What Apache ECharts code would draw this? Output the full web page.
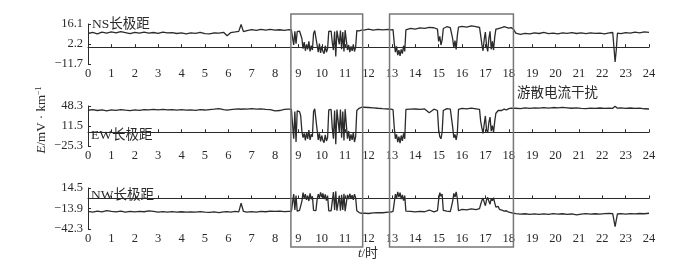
<!DOCTYPE html>
<html>
<head>
<meta charset="utf-8">
<script src="https://cdn.jsdelivr.net/npm/echarts@6/dist/echarts.min.js"></script>
<style>
  html, body { margin: 0; padding: 0; background: #fff; }
  #main { width: 695px; height: 265px; }
</style>
</head>
<body>
<div id="main"></div>
<script>
// 时间 (h)
var hours = [
  0, 0.2, 0.4, 0.6, 0.8, 1, 1.2, 1.4, 1.6, 1.8, 2, 2.2, 2.4, 2.6, 2.8, 3, 3.2, 3.4, 3.6, 3.8,
  4, 4.2, 4.4, 4.6, 4.8, 5, 5.2, 5.4, 5.6, 5.8, 5.95, 6.1, 6.3, 6.45, 6.55, 6.65, 6.8, 7, 7.2, 7.4,
  7.6, 7.8, 8, 8.2, 8.4, 8.6,
  8.70, 8.75, 8.80, 8.85, 8.90, 8.95, 9.00, 9.05, 9.10, 9.15, 9.20, 9.25, 9.30, 9.35, 9.40, 9.45,
  9.50, 9.55, 9.60, 9.65, 9.70, 9.75, 9.80, 9.85, 9.90, 9.95, 10.00, 10.05, 10.10, 10.15, 10.20,
  10.25, 10.30, 10.35, 10.40, 10.45, 10.50, 10.55, 10.60, 10.65, 10.70, 10.75, 10.80, 10.85, 10.90,
  10.95, 11.00, 11.05, 11.10, 11.15, 11.20, 11.25, 11.30, 11.35, 11.40, 11.45, 11.50, 11.55, 11.60,
  11.65, 11.70,
  11.8, 12.0, 12.2, 12.4, 12.6, 12.85,
  12.95, 13.0, 13.05, 13.1, 13.15, 13.2, 13.25, 13.3, 13.35, 13.4, 13.45, 13.5, 13.55, 13.6, 13.65,
  13.8, 14.0, 14.2, 14.4, 14.6, 14.8,
  14.95, 15.0, 15.05, 15.1, 15.15, 15.2, 15.25,
  15.35, 15.5,
  15.6, 15.65, 15.7, 15.75, 15.8, 15.85,
  16.0, 16.2, 16.4, 16.6,
  16.75, 16.8, 16.85, 16.9, 16.95, 17.0, 17.05, 17.1, 17.15, 17.2, 17.25, 17.3, 17.35, 17.4, 17.45,
  17.5, 17.55, 17.6,
  17.7, 17.8, 17.9, 18.0, 18.1, 18.2,
  18.3, 18.5, 18.7, 18.9, 19.1, 19.3, 19.5, 19.7, 19.9, 20.1, 20.3, 20.5, 20.7, 20.9, 21.1, 21.3,
  21.5, 21.7, 21.9, 22.1, 22.3, 22.45, 22.5, 22.55, 22.6, 22.65, 22.8, 23.0, 23.2, 23.4, 23.6, 23.8, 24.0
];

// NS长极距
var nsValues = [
  9.5, 10.2, 9.2, 10.5, 9.8, 10.6, 9.9, 10.8, 10.1, 9.4, 10.3, 9.7, 10.4, 9.8, 10.2, 9.6, 10.5, 9.9, 10.1, 9.5,
  10.0, 9.3, 9.9, 9.6, 10.3, 9.4, 9.2, 10.0, 9.7, 10.3, 8.0, 10.1, 10.6, 11.0, 15.8, 10.8, 11.5, 12.2, 11.6, 12.4,
  11.9, 12.3, 11.8, 12.1, 11.7, 12.2,
  12.0, 11.5, 1.5, 11.0, 2.5, 10.8, 11.5, 11.2, 10.5, 6.0, -1.0, 3.5, -2.5, 2.0, -1.5, 4.0,
  -3.0, 1.0, -2.0, 9.5, 11.5, 10.8, 1.5, -3.5, 2.5, -4.0, 0.5, -3.0, -4.5, 1.0, -3.5,
  -1.0, 11.0, 12.0, 11.2, 3.5, -2.0, 10.8, -6.5, 11.5, 12.0, 2.0, 11.6, -1.5, 10.5,
  -3.0, 11.8, 11.0, -2.0, 1.5, -3.5, 0.5, -2.5, 2.0, -3.0, 0.0, 11.5, 12.0, 11.3,
  12.2, 11.8,
  11.9, 12.5, 11.8, 12.4, 12.0, 12.3,
  12.0, 11.6, 12.2, 3.0, -3.5, 0.5, -5.5, -2.0, -6.0, -1.5, -4.5, 1.0, -3.0, 12.0, 12.8,
  13.0, 12.6, 13.4, 13.0, 13.8, 13.5,
  12.5, 4.0, 7.5, 1.5, 5.0, 13.0, 13.8,
  14.2, 13.5,
  6.0, -0.5, 4.5, -1.5, 8.0, 14.0,
  14.5, 14.0, 14.8, 14.2,
  13.8, 8.0, 2.0, -2.5, 5.5, 10.5, 1.0, -3.0, 6.0, 11.0, -1.5, 4.0, -2.0, 7.0, 12.5,
  13.5, 12.8, 13.8,
  13.5, 14.3, 13.8, 13.2, 13.6, 12.5,
  9.8, 8.9, 9.6, 9.2, 9.9, 9.5, 10.2, 9.4, 9.8, 9.3, 10.0, 9.6, 10.1, 9.5, 9.9, 9.4,
  10.0, 9.6, 9.8, 9.3, 9.9, 10.2, 9.5, -10.3, -2.0, 9.8, 9.4, 10.1, 9.7, 10.4, 10.0, 10.6, 10.3
];

// EW长极距
var ewValues = [
  40.5, 41.5, 40.0, 41.2, 39.5, 41.0, 40.2, 41.5, 40.6, 39.8, 41.0, 40.3, 41.8, 41.0, 42.0, 41.3, 42.2, 41.0, 41.8, 40.7,
  41.5, 40.8, 41.2, 40.4, 41.6, 40.9, 41.8, 42.5, 43.5, 41.5, 40.6, 41.5, 42.5, 43.0, 42.3, 43.2, 42.5, 43.5, 42.6, 43.0,
  42.0, 41.5, 39.5, 40.0, 42.0, 42.5,
  42.5, 41.0, -12.0, 38.0, -18.0, 39.5, 40.5, 38.0, 30.0, 2.0, -10.0, -2.0, -15.0, 0.0, -12.0, 4.0,
  -14.0, -4.0, -8.0, 38.0, 43.0, 41.0, 5.0, -14.0, -2.0, -17.0, -6.0, -15.0, -19.0, -5.0, -16.0,
  -10.0, 41.0, 43.0, 42.0, 8.0, -12.0, 40.0, -22.0, 42.0, 43.0, 0.0, 42.0, -10.0, 38.0,
  -15.0, 42.5, 40.0, -12.0, 2.0, -16.0, -4.0, -14.0, 0.0, -18.0, -8.0, 40.0, 42.0, 44.0,
  45.5, 46.0,
  46.0, 45.5, 45.0, 44.2, 43.5, 42.8,
  42.5, 42.0, 41.5, 10.0, -12.0, -4.0, -18.0, -8.0, -20.0, -6.0, -16.0, -2.0, -12.0, 42.0, 43.0,
  42.5, 42.8, 42.0, 43.0, 36.0, 42.5,
  40.0, 5.0, -8.0, -12.0, 0.0, 40.0, 43.0,
  43.5, 42.5,
  10.0, -10.0, -4.0, -14.0, -2.0, 42.0,
  44.0, 43.0, 44.5, 43.2,
  42.0, 20.0, 8.0, -2.0, 15.0, 30.0, 4.0, -1.0, 18.0, 28.0, 2.0, 12.0, 0.0, 20.0, 35.0,
  38.0, 40.0, 37.0,
  40.0, 42.5, 41.0, 43.5, 44.5, 44.0,
  44.2, 43.5, 44.8, 44.0, 45.0, 44.3, 45.2, 44.5, 45.5, 44.8, 45.6, 45.0, 44.2, 44.9, 44.0, 43.5,
  44.3, 43.8, 44.6, 43.9, 44.5, 44.0, 45.5, 48.0, 45.0, 44.3, 44.8, 44.0, 44.6, 43.8, 44.4, 43.2, 42.8
];

// NW长极距
var nwValues = [
  -18.0, -18.8, -17.5, -18.5, -16.8, -17.8, -18.6, -17.6, -18.9, -18.0, -18.7, -17.9, -18.4, -17.2, -18.0, -18.8, -18.2, -19.0, -18.3, -18.9,
  -18.4, -19.0, -18.5, -18.9, -18.2, -18.8, -19.3, -18.7, -19.5, -18.6, -18.2, -18.9, -17.8, -18.6, -6.5, -18.0, -18.8, -18.2, -19.0, -17.8,
  -18.4, -17.5, -18.0, -17.4, -18.2, -17.8,
  -18.0, -17.0, 6.0, -16.0, 4.0, -17.5, -17.0, -16.5, -15.0, -4.0, 8.0, 0.0, 6.0, -2.0, 4.0, -3.5,
  7.0, -1.0, 3.0, -16.5, -18.0, -16.8, -2.0, 6.0, 0.5, 8.5, 2.0, 7.0, -1.0, 5.5, -3.0,
  4.0, -17.0, -18.0, -17.2, -4.0, 9.0, -16.0, 10.0, -17.0, -18.0, 4.0, -17.0, 5.0, -16.0,
  6.5, -17.5, -16.0, 5.0, -1.0, 6.5, 0.0, 4.5, -2.0, 6.0, 1.0, -17.0, -18.5, -19.5,
  -20.0, -20.5,
  -20.2, -20.8, -20.0, -19.6, -19.8, -19.0,
  -18.8, -18.5, -18.0, -6.0, 6.0, 0.0, 9.0, 2.0, 8.0, -1.0, 5.0, -3.0, 4.0, -17.5, -18.5,
  -18.0, -18.6, -17.8, -18.4, -16.0, -18.5,
  -17.0, -2.0, 8.0, 3.0, 6.0, -16.5, -18.0,
  -17.5, -18.2,
  -4.0, 7.0, 2.0, 9.0, 0.0, -17.0,
  -15.0, -15.8, -14.5, -15.5,
  -14.0, -8.0, -3.0, 0.5, -5.0, -10.0, -2.0, 1.5, -4.0, -8.0, 0.0, -3.0, 1.0, -6.0, -12.0,
  -14.0, -11.0, -15.0,
  -16.0, -17.5, -17.0, -19.0, -19.5, -20.5,
  -21.0, -21.8, -21.2, -22.0, -21.4, -22.1, -21.3, -21.9, -21.0, -21.7, -21.2, -22.0, -21.5, -22.8, -21.6, -21.0,
  -21.8, -21.2, -21.7, -21.0, -20.6, -21.2, -22.5, -39.0, -30.0, -21.5, -21.0, -21.6, -20.9, -21.4, -20.8, -21.2, -20.5
];

// 纵轴刻度
var nsTicks = [-11.7, 2.2, 16.1];
var ewTicks = [-25.3, 11.5, 48.3];
var nwTicks = [-42.3, -13.9, 14.5];

var panelNames = ["NS长极距", "EW长极距", "NW长极距"];
// 方框时段
var boxSpans = [[8.68, 11.75], [12.9, 18.2]];

var serif = '"Liberation Serif", "Noto Sans CJK SC", serif';
var ink = "#2a2a2a";

function pairs(vals) {
  return hours.map(function (h, i) { return [h, vals[i]]; });
}
function minus(v) {
  return String(v).replace("-", "−");
}

var gridTops = [24, 106, 188];
var gridHeights = [40, 40, 41];
var tickSets = [nsTicks, ewTicks, nwTicks];
var valueSets = [nsValues, ewValues, nwValues];

var grids = [], xAxes = [], yAxes = [], series = [];
for (var i = 0; i < 3; i++) {
  grids.push({ left: 88, right: 46, top: gridTops[i], height: gridHeights[i] });
  xAxes.push({
    type: "value", gridIndex: i, min: 0, max: 24, interval: 1,
    axisLine: { lineStyle: { color: ink, width: 1 } },
    axisTick: { inside: true, length: 3, lineStyle: { color: ink } },
    axisLabel: { margin: 3, color: ink, fontFamily: serif, fontSize: 12.5 },
    splitLine: { show: false }
  });
  yAxes.push({
    type: "value", gridIndex: i,
    min: tickSets[i][0], max: tickSets[i][2],
    axisLine: { show: true, lineStyle: { color: ink, width: 1 } },
    axisTick: { show: true, inside: true, length: 3, customValues: tickSets[i], lineStyle: { color: ink } },
    axisLabel: {
      margin: 5, color: ink, fontFamily: serif, fontSize: 12.5,
      customValues: tickSets[i],
      formatter: function (v) { return minus(v); }
    },
    splitLine: { show: false }
  });
  series.push({
    type: "line", xAxisIndex: i, yAxisIndex: i,
    data: pairs(valueSets[i]),
    showSymbol: false, symbol: "none",
    lineStyle: { color: "#2b2b2b", width: 1.3 },
    animation: false
  });
}

var labelPos = [[92, 26], [91, 137], [91, 197]];
var graphics = [];
panelNames.forEach(function (name, i) {
  graphics.push({
    type: "text", left: labelPos[i][0], top: labelPos[i][1] - 8,
    style: { text: name, font: "13.5px " + serif, fill: ink }
  });
});
graphics.push({
  type: "text", left: 517, top: 87,
  style: { text: "游散电流干扰", font: "13.5px " + serif, fill: ink }
});
graphics.push({
  type: "text", x: 42, y: 120, rotation: Math.PI / 2,
  style: {
    text: "{i|E}/mV · km{s|−1}",
    rich: {
      i: { fontStyle: "italic", fontSize: 13, fontFamily: serif, fill: ink },
      s: { fontSize: 8, fontFamily: serif, fill: ink, verticalAlign: "top", padding: [0, 0, 6, 0] }
    },
    font: "13px " + serif, fill: ink, align: "center", verticalAlign: "middle"
  }
});
graphics.push({
  type: "text", x: 368, y: 254,
  style: {
    text: "{i|t}/时",
    rich: { i: { fontStyle: "italic", fontSize: 13, fontFamily: serif, fill: ink } },
    font: "13px " + serif, fill: ink, align: "center", verticalAlign: "middle"
  }
});

var chart = echarts.init(document.getElementById("main"), null, { renderer: "canvas" });
chart.setOption({
  animation: false,
  backgroundColor: "#fff",
  grid: grids,
  xAxis: xAxes,
  yAxis: yAxes,
  series: series,
  graphic: graphics
});

// 方框
var boxes = boxSpans.map(function (span, k) {
  var x1 = chart.convertToPixel({ xAxisIndex: 0 }, span[0]);
  var x2 = chart.convertToPixel({ xAxisIndex: 0 }, span[1]);
  return {
    type: "rect", id: "box" + k, z: 10,
    shape: { x: x1, y: 14, width: x2 - x1, height: 233 },
    style: { fill: "none", stroke: "#777", lineWidth: 1.5 }
  };
});
chart.setOption({ graphic: graphics.concat(boxes) });
</script>
</body>
</html>
